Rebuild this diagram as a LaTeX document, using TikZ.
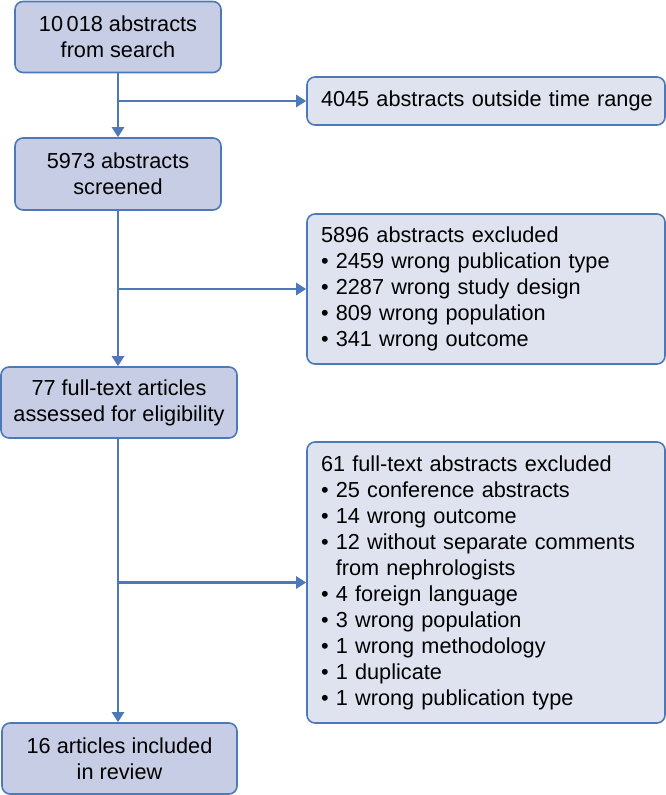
\documentclass[tikz,border=0pt]{standalone}
\usepackage{fontspec}
\setmainfont{Liberation Sans}
\usepackage{tikz}
\usetikzlibrary{arrows.meta}
\usetikzlibrary{calc}
\definecolor{boxline}{HTML}{4E79B9}
\definecolor{stepfill}{HTML}{C6CDE5}
\definecolor{exclfill}{HTML}{DFE3F0}

\begin{document}
\begin{tikzpicture}[x=1pt, y=-1pt,
		stepbox/.style={draw=boxline, line width=1.6pt, fill=stepfill, rounded corners=8pt,
			align=center, inner sep=0pt, font=\fontsize{21.7}{26}\selectfont},
		exclbox/.style={stepbox, fill=exclfill, align=left, inner xsep=14pt,
			text width=330pt, minimum width=358pt},
		flow/.style={draw=boxline, line width=2.8pt, -{Triangle[length=10pt, width=12pt]}}]
	\useasboundingbox (0,0) rectangle (666,795);

	\def\bul{\textbullet\ }

	\node[stepbox, minimum width=206pt, minimum height=71pt] (search) at (118,37)
		{10\,018 abstracts\\from search};
	\node[stepbox, minimum width=206pt, minimum height=72pt] (screened) at (118,174)
		{5973 abstracts\\screened};
	\node[stepbox, minimum width=236pt, minimum height=71pt] (eligible) at (119,402.5)
		{77 full-text articles\\assessed for eligibility};
	\node[stepbox, minimum width=235pt, minimum height=71pt] (included) at (119.5,758.5)
		{16 articles included\\in review};

	\node[exclbox, minimum height=48pt] (range) at (486,101)
		{\mbox{4045 abstracts outside time range}};
	\node[exclbox, minimum height=150pt] (absexcl) at (486,289)
		{5896 abstracts excluded\\
		\bul 2459 wrong publication type\\
		\bul 2287 wrong study design\\
		\bul 809 wrong population\\
		\bul 341 wrong outcome};
	\node[exclbox, minimum height=281pt] (fullexcl) at (486,582.5)
		{61 full-text abstracts excluded\\
		\bul 25 conference abstracts\\
		\bul 14 wrong outcome\\
		\bul 12 without separate comments\\
		\phantom{\textbullet}\ from nephrologists\\
		\bul 4 foreign language\\
		\bul 3 wrong population\\
		\bul 1 wrong methodology\\
		\bul 1 duplicate\\
		\bul 1 wrong publication type};

	% main flow
	\draw[flow] (search.south) -- (screened.north);
	\draw[flow] (screened.south) -- (screened.south |- eligible.north);
	\draw[flow] (eligible.south -| screened.south) -- (included.north -| screened.south);

	% exclusions
	\draw[flow] (search.south |- range.west) -- (range.west);
	\draw[flow] (screened.south |- absexcl.west) -- (absexcl.west);
	\draw[flow] (screened.south |- fullexcl.west) -- (fullexcl.west);
\end{tikzpicture}
\end{document}
